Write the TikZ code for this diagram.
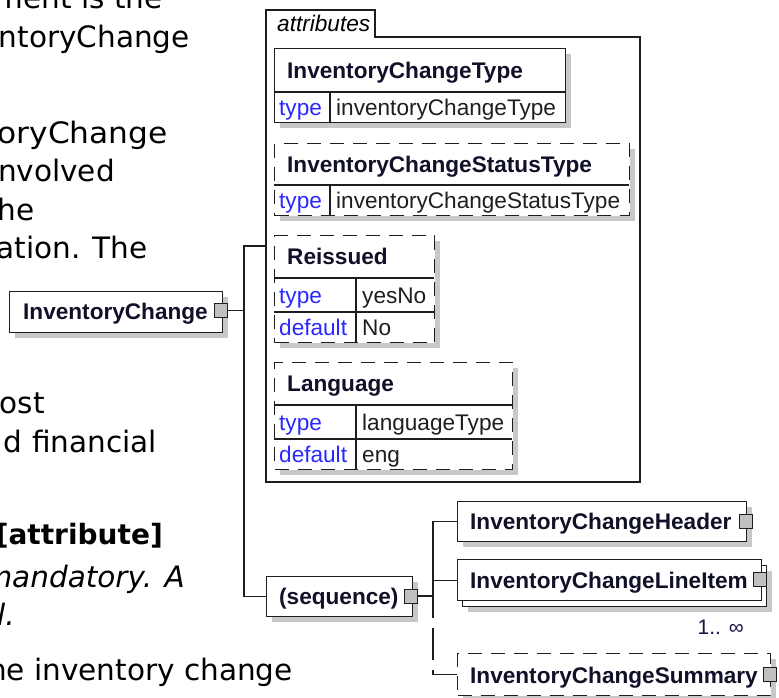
\documentclass[tikz,border=0pt]{standalone}
\usepackage{fontspec}
\setmainfont{DejaVu Sans}
\newfontfamily\arialf{Liberation Sans}
\usetikzlibrary{shadows,calc}
\definecolor{namecol}{RGB}{16,16,40}
\definecolor{keycol}{RGB}{40,40,255}
\definecolor{valcol}{RGB}{30,30,30}
\definecolor{shadowcol}{RGB}{200,200,200}
\definecolor{linecol}{RGB}{30,30,30}
\definecolor{sqfill}{RGB}{192,192,192}
\definecolor{occol}{RGB}{20,20,70}
\begin{document}
\begin{tikzpicture}[x=1pt,y=-1pt,
  bg/.style={font=\fontsize{29.5}{35}\selectfont, anchor=base east, inner sep=0pt, text=black},
  bgb/.style={bg, font=\bfseries\fontsize{28}{35}\selectfont},
  bgi/.style={bg, font=\itshape\fontsize{29.5}{35}\selectfont},
  ebox/.style={draw=linecol, line width=1.3pt, fill=white, rectangle, inner sep=0pt, anchor=north west},
  shd/.style={drop shadow={shadow xshift=5pt, shadow yshift=-5pt, fill=shadowcol, opacity=1}},
  dsh/.style={dash pattern=on 14pt off 9pt},
  ln/.style={draw=linecol, line width=1.3pt},
  sq/.style={draw=linecol, line width=1pt, fill=sqfill, minimum width=13pt, minimum height=14pt, inner sep=0pt},
  nm/.style={font=\arialf\bfseries\fontsize{22.6}{26}\selectfont, text=namecol, anchor=base west, inner sep=0pt},
  ky/.style={font=\arialf\fontsize{22.6}{26}\selectfont, text=keycol, anchor=base west, inner sep=0pt},
  vl/.style={ky, text=valcol},
  occ/.style={font=\arialf\fontsize{21}{24}\selectfont, text=occol, anchor=base east, inner sep=0pt}
]
\useasboundingbox (0,0) rectangle (779,697);
\clip (0,0) rectangle (779,697);
\fill[white] (0,0) rectangle (779,697);

% background page text
\node[bg] (b1) at (163,8) {ment is the};
\node[bg] (b2) at (190,47) {ntoryChange};
\node[bg, xscale=1.06] (b3) at (168,143) {oryChange};
\node[bg] (b4) at (115,181) {nvolved};
\node[bg] (b5) at (35,220) {he};
\node[bg] (b6) at (148,258) {ation. The};
\node[bg] (b7) at (45,413) {ost};
\node[bg] (b8) at (157,452) {d financial};
\node[bgb] (b9) at (163,544) {[attribute]};
\node[bgi] (b10) at (185,587) {mandatory. A};
\node[bgi] (b11) at (15,625) {l.};
\node[bg] (b12) at (293,680) {he inventory change};

% attributes container
\draw[ln] (266,10) -- (375,10) -- (375,37) -- (640,37) -- (640,482) -- (266,482) -- cycle;
\node[font=\arialf\itshape\fontsize{22.6}{26}\selectfont, anchor=base west, inner sep=0pt] (attl) at (277,31) {attributes};
\coordinate (attin) at (266,246);

% attribute 1
\node[ebox,shd,minimum width=291pt,minimum height=74pt] (a1) at (274,48) {};
\draw[ln] (274,92) -- (565,92);
\draw[ln] (330,92) -- (330,122);
\node[nm] (a1n) at (287,78) {InventoryChangeType};
\node[ky] (a1k) at (279,115) {type};
\node[vl] (a1v) at (336,115) {inventoryChangeType};

% attribute 2
\node[ebox,shd,dsh,minimum width=355pt,minimum height=72pt] (a2) at (274,143) {};
\draw[ln] (274,185) -- (629,185);
\draw[ln] (330,185) -- (330,215);
\node[nm] (a2n) at (287,172) {InventoryChangeStatusType};
\node[ky] (a2k) at (279,208) {type};
\node[vl] (a2v) at (336,208) {inventoryChangeStatusType};

% attribute 3
\node[ebox,shd,dsh,minimum width=160pt,minimum height=107pt] (a3) at (274,235) {};
\draw[ln] (274,278) -- (434,278);
\draw[ln] (274,312) -- (434,312);
\draw[ln] (356,278) -- (356,342);
\node[nm] (a3n) at (287,264) {Reissued};
\node[ky] (a3k) at (279,303) {type};
\node[vl] (a3v) at (362,303) {yesNo};
\node[ky] (a3k2) at (279,335) {default};
\node[vl] (a3v2) at (362,335) {No};

% attribute 4
\node[ebox,shd,dsh,minimum width=238pt,minimum height=107pt] (a4) at (274,362) {};
\draw[ln] (274,405) -- (512,405);
\draw[ln] (274,439) -- (512,439);
\draw[ln] (356,405) -- (356,469);
\node[nm] (a4n) at (287,391) {Language};
\node[ky] (a4k) at (279,430) {type};
\node[vl] (a4v) at (362,430) {languageType};
\node[ky] (a4k2) at (279,462) {default};
\node[vl] (a4v2) at (362,462) {eng};

% root element
\node[ebox,shd,minimum width=213pt,minimum height=41pt] (ic) at (9,291) {};
\node[nm] (ict) at (23,319.5) {InventoryChange};
\node[sq] (icsq) at (220.5,310.5) {};

% sequence
\node[ebox,shd,minimum width=146pt,minimum height=40pt] (seq) at (266,576) {};
\node[nm] (seqt) at (279,604) {(sequence)};
\node[sq] (seqsq) at (411,596) {};

% children
\node[ebox,shd,minimum width=289pt,minimum height=40pt] (hdr) at (457,501) {};
\node[nm] (hdrt) at (470,529) {InventoryChangeHeader};
\node[sq] (hdrsq) at (746,521) {};

\node[ebox,shd,minimum width=304pt,minimum height=41pt] (lib) at (462,565) {};
\node[ebox,minimum width=304pt,minimum height=41pt] (li) at (457,559) {};
\node[nm] (lit) at (470,588) {InventoryChangeLineItem};
\node[sq] (lisq) at (760,579.5) {};
\node[occ] (occ) at (744,634) {1.. ∞};

\node[ebox,shd,dsh,minimum width=313pt,minimum height=42pt] (sum) at (457,653) {};
\node[nm] (sumt) at (470,683) {InventoryChangeSummary};
\node[sq] (sumsq) at (770,674) {};

% connectors
\coordinate (tr1) at (244,310.5);
\coordinate (tr2) at (433,596);
\coordinate (tr3) at (433,618);
\draw[ln] (icsq.east) -- (tr1);
\draw[ln] (attin) -| (tr1) |- (seq.west);
\draw[ln] (seqsq.east) -- (tr2);
\draw[ln] (hdr.west) -| (tr3);
\draw[ln] (li.west) -- (li.west -| tr2);
\draw[ln, dash pattern=on 0pt off 10pt on 32pt off 10pt on 300pt] (tr3) |- (sum.west);
\end{tikzpicture}
\end{document}
